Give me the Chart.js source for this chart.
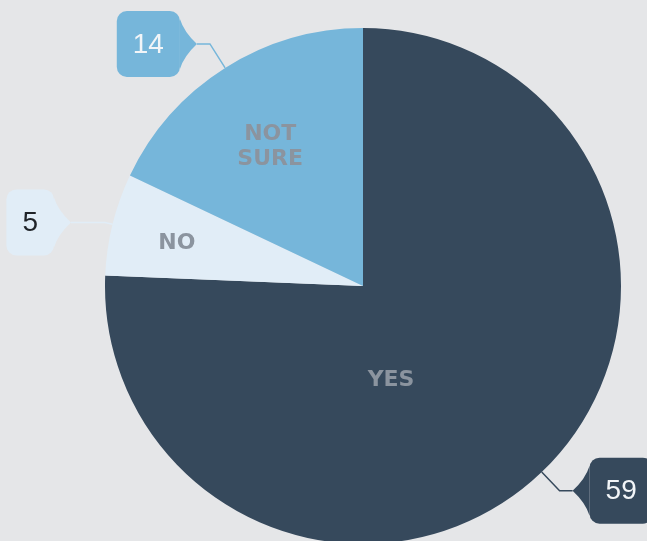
<!DOCTYPE html>
<html lang="en">
  <head>
    <meta charset="UTF-8" />
    <title>Survey answers</title>
    <script src="https://cdn.jsdelivr.net/npm/chart.js"></script>
    <style>
      html,
      body {
        margin: 0;
        padding: 0;
        overflow: hidden;
        background-color: #e5e6e8;
      }

      #chart-container {
        width: 647px;
        height: 572px;
      }
    </style>
  </head>
  <body>
    <div id="chart-container">
      <canvas id="answersChart"></canvas>
    </div>

    <script>
      const categories = ["YES", "NO", "NOT SURE"];
      const answers = [59, 5, 14];
      const sliceColors = ["#36495c", "#e1edf7", "#76b6da"];
      const calloutTextColors = ["#f2f5f8", "#1f2328", "#f2f5f8"];

      // draws the in-slice names and the numbered callouts
      const calloutPlugin = {
        id: "callouts",
        afterDatasetsDraw(chart, args, opts) {
          const ctx = chart.ctx;
          const meta = chart.getDatasetMeta(0);
          const values = chart.data.datasets[0].data;

          meta.data.forEach((arc, i) => {
            const p = arc.getProps(
              ["x", "y", "startAngle", "endAngle", "outerRadius"],
              true
            );
            const r = p.outerRadius;
            const span = p.endAngle - p.startAngle;

            // slice name
            const spot = opts.labelSpots[i];
            const la = p.startAngle + span * spot[0];
            const lx = p.x + Math.cos(la) * r * spot[1];
            const ly = p.y + Math.sin(la) * r * spot[1];
            const lines = chart.data.labels[i].split(" ");
            ctx.save();
            ctx.font = "bold 22px 'DejaVu Sans'";
            ctx.fillStyle = "#8b949f";
            ctx.textAlign = "center";
            ctx.textBaseline = "middle";
            lines.forEach((line, k) => {
              ctx.fillText(line, lx, ly + (k - (lines.length - 1) / 2) * 25);
            });
            ctx.restore();

            // callout line
            const mid = p.startAngle + span / 2;
            const ex = p.x + Math.cos(mid) * r;
            const ey = p.y + Math.sin(mid) * r;
            const reach = opts.reach[i];
            const bx = p.x + Math.cos(mid) * r * reach;
            const by = p.y + Math.sin(mid) * r * reach;
            const dir = Math.cos(mid) < 0 ? -1 : 1;
            const tipX = bx + dir * opts.run[i];
            const color = chart.data.datasets[0].backgroundColor[i];

            ctx.save();
            ctx.strokeStyle = color;
            ctx.lineWidth = 1.5;
            ctx.beginPath();
            ctx.moveTo(ex, ey);
            ctx.lineTo(bx, by);
            ctx.lineTo(tipX, by);
            ctx.stroke();

            // callout box
            const text = String(values[i]);
            ctx.font = "28px 'Liberation Sans'";
            const tw = ctx.measureText(text).width;
            const w = Math.max(tw + 32, 43);
            const h = 66;
            const pd = 17;
            const rad = 10;
            const edge = tipX + dir * pd;
            const far = edge + dir * w;
            const left = Math.min(edge, far);
            const top = by - h / 2;

            ctx.fillStyle = color;
            ctx.beginPath();
            ctx.roundRect(left, top, w, h, rad);
            ctx.fill();
            ctx.beginPath();
            ctx.moveTo(edge, by - h / 2 + 8);
            ctx.quadraticCurveTo(edge - dir * 4, by - 12, tipX, by);
            ctx.quadraticCurveTo(edge - dir * 4, by + 12, edge, by + h / 2 - 8);
            ctx.closePath();
            ctx.fill();

            ctx.fillStyle = calloutTextColors[i];
            ctx.textAlign = "center";
            ctx.textBaseline = "middle";
            ctx.fillText(text, left + w / 2, by + 1);
            ctx.restore();
          });
        },
      };

      const ctx = document.getElementById("answersChart").getContext("2d");
      new Chart(ctx, {
        type: "pie",
        data: {
          labels: categories,
          datasets: [
            {
              data: answers,
              backgroundColor: sliceColors,
              borderWidth: 0,
              hoverOffset: 0,
            },
          ],
        },
        options: {
          responsive: true,
          maintainAspectRatio: false,
          animation: false,
          events: [],
          layout: {
            padding: { left: 105, right: 26, top: 28, bottom: 28 },
          },
          plugins: {
            legend: { display: false },
            tooltip: { enabled: false },
            callouts: {
              labelSpots: [
                [0.6, 0.38],
                [0.46, 0.74],
                [0.48, 0.65],
              ],
              reach: [1.1, 1.03, 1.11],
              run: [13, 34, 13],
            },
          },
        },
        plugins: [calloutPlugin],
      });
    </script>
  </body>
</html>
